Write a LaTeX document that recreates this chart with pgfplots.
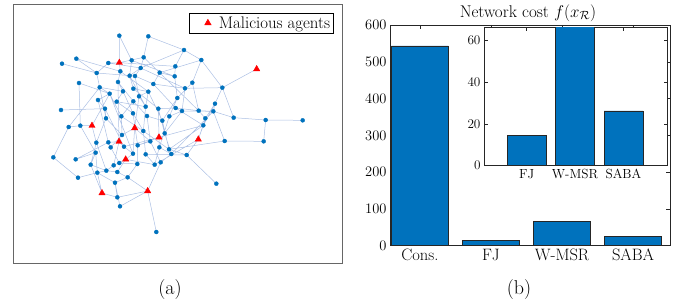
\RequirePackage{fix-cm}
\documentclass[border=0pt]{standalone}
\usepackage{pgfplots}
\pgfplotsset{compat=1.18}
\definecolor{mblue}{RGB}{0,114,189}
\definecolor{edgecol}{RGB}{172,192,228}
\definecolor{axgray}{RGB}{38,38,38}
\newcommand{\fsleg}{\fontsize{16.8}{19}\selectfont}
\newcommand{\fsy}{\fontsize{14.5}{17}\selectfont}
\newcommand{\fsx}{\fontsize{16.5}{19}\selectfont}
\newcommand{\fsin}{\fontsize{13.2}{15}\selectfont}
\newcommand{\fstit}{\fontsize{17}{20}\selectfont}
\newcommand{\fslab}{\fontsize{20}{23}\selectfont}
\begin{document}
\begin{tikzpicture}
\useasboundingbox (0,0) rectangle (681pt,305pt);
% ---------------- panel (a): network ----------------
\begin{axis}[
  at={(13.5pt,42pt)}, anchor=south west, scale only axis,
  width=328.5pt, height=258.5pt,
  xmin=40.5, xmax=1026, ymin=13.5, ymax=789, y dir=reverse,
  xtick=\empty, ytick=\empty,
  axis line style={black!60, line width=0.9pt},
  legend style={at={(1,1)}, anchor=north east, xshift=-8pt, yshift=-8pt,
    font=\fsleg, draw=black, line width=0.6pt, inner sep=1.6pt},
  legend cell align=left,
  legend image code/.code={\path[draw=none,fill=none] (-17pt,0pt) (9pt,0pt); \draw plot coordinates {(0pt,0pt)};},
]
\addplot[edgecol, line width=0.5pt, unbounded coords=jump, forget plot] coordinates {
(358,107)(358,188)(nan,nan) (358,107)(395,181)(nan,nan) (445,109)(431,172)(nan,nan)
(445,109)(552,150)(nan,nan) (552,150)(604,180)(nan,nan) (552,150)(422,204)(nan,nan)
(604,180)(667,263)(nan,nan) (604,180)(577,248)(nan,nan) (604,180)(479,218)(nan,nan)
(667,263)(770,207)(nan,nan) (667,263)(645,311)(nan,nan) (667,263)(701,353)(nan,nan)
(667,263)(555,265)(nan,nan) (645,311)(616,355)(nan,nan) (645,311)(610,376)(nan,nan)
(645,311)(640,334)(nan,nan) (701,353)(797,360)(nan,nan) (640,334)(701,353)(nan,nan)
(797,360)(908,361)(nan,nan) (797,360)(791,424)(nan,nan) (791,424)(674,423)(nan,nan)
(674,423)(640,334)(nan,nan) (674,423)(507,448)(nan,nan) (640,334)(546,333)(nan,nan)
(596,332)(640,334)(nan,nan) (186,191)(290,219)(nan,nan) (229,176)(290,219)(nan,nan)
(229,176)(361,214)(nan,nan) (237,249)(241,377)(nan,nan) (237,249)(329,281)(nan,nan)
(183,330)(315,326)(nan,nan) (206,381)(299,262)(nan,nan) (206,381)(160,472)(nan,nan)
(160,472)(234,533)(nan,nan) (227,478)(325,427)(nan,nan) (227,478)(287,458)(nan,nan)
(234,533)(292,518)(nan,nan) (306,579)(352,592)(nan,nan) (306,579)(272,494)(nan,nan)
(306,579)(292,518)(nan,nan) (352,592)(443,573)(nan,nan) (360,619)(443,573)(nan,nan)
(360,619)(345,548)(nan,nan) (443,573)(469,696)(nan,nan) (443,573)(383,532)(nan,nan)
(443,573)(482,487)(nan,nan) (649,551)(560,465)(nan,nan) (560,465)(595,418)(nan,nan)
(560,465)(437,463)(nan,nan) (560,465)(507,448)(nan,nan) (595,418)(610,376)(nan,nan)
(595,418)(464,494)(nan,nan) (595,418)(616,355)(nan,nan) (325,189)(290,219)(nan,nan)
(325,189)(422,204)(nan,nan) (325,189)(358,188)(nan,nan) (358,188)(361,214)(nan,nan)
(358,188)(526,199)(nan,nan) (358,188)(431,172)(nan,nan) (395,181)(389,227)(nan,nan)
(395,181)(524,229)(nan,nan) (431,172)(479,218)(nan,nan) (431,172)(422,204)(nan,nan)
(290,219)(299,262)(nan,nan) (290,219)(405,228)(nan,nan) (361,214)(354,246)(nan,nan)
(361,214)(445,275)(nan,nan) (422,204)(389,227)(nan,nan) (422,204)(555,265)(nan,nan)
(479,218)(524,229)(nan,nan) (479,218)(460,252)(nan,nan) (526,199)(524,229)(nan,nan)
(526,199)(552,150)(nan,nan) (524,229)(532,294)(nan,nan) (299,262)(329,281)(nan,nan)
(299,262)(318,355)(nan,nan) (299,262)(369,274)(nan,nan) (354,246)(369,274)(nan,nan)
(354,246)(400,304)(nan,nan) (389,227)(400,266)(nan,nan) (389,227)(437,320)(nan,nan)
(405,228)(417,289)(nan,nan) (405,228)(460,252)(nan,nan) (369,274)(350,305)(nan,nan)
(369,274)(399,340)(nan,nan) (400,266)(445,275)(nan,nan) (400,266)(475,326)(nan,nan)
(460,252)(555,265)(nan,nan) (460,252)(527,324)(nan,nan) (445,275)(417,289)(nan,nan)
(445,275)(487,362)(nan,nan) (577,248)(532,294)(nan,nan) (577,248)(596,332)(nan,nan)
(555,265)(546,333)(nan,nan) (294,300)(315,326)(nan,nan) (294,300)(329,281)(nan,nan)
(294,300)(325,427)(nan,nan) (329,281)(364,349)(nan,nan) (350,305)(437,320)(nan,nan)
(350,305)(399,340)(nan,nan) (400,304)(441,348)(nan,nan) (400,304)(364,349)(nan,nan)
(417,289)(437,320)(nan,nan) (532,294)(508,349)(nan,nan) (532,294)(487,362)(nan,nan)
(315,326)(318,355)(nan,nan) (315,326)(372,440)(nan,nan) (437,320)(430,393)(nan,nan)
(475,326)(527,324)(nan,nan) (475,326)(494,400)(nan,nan) (527,324)(596,332)(nan,nan)
(546,333)(508,349)(nan,nan) (596,332)(616,355)(nan,nan) (318,355)(289,428)(nan,nan)
(318,355)(366,405)(nan,nan) (364,349)(366,405)(nan,nan) (399,340)(430,393)(nan,nan)
(399,340)(413,436)(nan,nan) (441,348)(487,362)(nan,nan) (441,348)(451,424)(nan,nan)
(487,362)(494,400)(nan,nan) (508,349)(478,442)(nan,nan) (616,355)(610,376)(nan,nan)
(206,381)(241,377)(nan,nan) (241,377)(276,377)(nan,nan) (241,377)(287,458)(nan,nan)
(276,377)(329,281)(nan,nan) (276,377)(289,428)(nan,nan) (404,384)(366,405)(nan,nan)
(404,384)(451,424)(nan,nan) (404,384)(417,289)(nan,nan) (404,384)(399,461)(nan,nan)
(610,376)(507,448)(nan,nan) (366,405)(332,442)(nan,nan) (430,393)(437,463)(nan,nan)
(494,400)(514,462)(nan,nan) (289,428)(272,494)(nan,nan) (325,427)(332,442)(nan,nan)
(325,427)(357,425)(nan,nan) (357,425)(372,440)(nan,nan) (357,425)(354,246)(nan,nan)
(357,425)(341,496)(nan,nan) (372,440)(399,461)(nan,nan) (413,436)(412,492)(nan,nan)
(413,436)(451,424)(nan,nan) (451,424)(482,487)(nan,nan) (478,442)(514,462)(nan,nan)
(478,442)(464,494)(nan,nan) (477,412)(478,442)(nan,nan) (477,412)(475,326)(nan,nan)
(477,412)(413,436)(nan,nan) (477,412)(610,376)(nan,nan) (372,440)(477,412)(nan,nan)
(287,458)(292,518)(nan,nan) (332,442)(358,489)(nan,nan) (399,461)(377,478)(nan,nan)
(377,478)(341,496)(nan,nan) (377,478)(352,516)(nan,nan) (377,478)(464,494)(nan,nan)
(437,463)(464,494)(nan,nan) (514,462)(482,487)(nan,nan) (272,494)(319,512)(nan,nan)
(341,496)(319,512)(nan,nan) (358,489)(412,492)(nan,nan) (412,492)(383,532)(nan,nan)
(292,518)(319,512)(nan,nan) (292,518)(345,548)(nan,nan) (319,512)(352,516)(nan,nan)
(352,516)(383,532)(nan,nan) (383,532)(345,548)(nan,nan) (345,548)(352,592)(nan,nan)
(272,494)(287,458)(nan,nan) (430,393)(507,448)(nan,nan) (422,204)(405,228)(nan,nan)
(437,320)(445,275)(nan,nan) (546,333)(494,400)(nan,nan) (640,334)(514,462)(nan,nan)
(487,362)(507,448)(nan,nan) (527,324)(610,376)(nan,nan) (364,349)(430,393)(nan,nan)
(479,218)(596,332)(nan,nan) (329,281)(399,461)(nan,nan) (289,428)(319,512)
};
\addplot[only marks, mark=*, mark size=2pt, mark options={fill=mblue, draw=mblue}, forget plot] coordinates {
(358,107)(445,109)(552,150)(186,191)(229,176)(325,189)(395,181)(431,172)(604,180)(290,219)
(361,214)(422,204)(479,218)(526,199)(524,229)(237,249)(299,262)(354,246)(389,227)(405,228)
(369,274)(400,266)(460,252)(445,275)(577,248)(555,265)(667,263)(294,300)(329,281)(350,305)
(400,304)(417,289)(532,294)(183,330)(315,326)(437,320)(475,326)(527,324)(546,333)(596,332)
(645,311)(640,334)(318,355)(364,349)(399,340)(441,348)(487,362)(508,349)(616,355)(701,353)
(797,360)(908,361)(206,381)(241,377)(610,376)(366,405)(430,393)(494,400)(289,428)(325,427)
(372,440)(413,436)(451,424)(478,442)(507,448)(674,423)(791,424)(160,472)(227,478)(287,458)
(332,442)(399,461)(437,463)(514,462)(560,465)(272,494)(341,496)(358,489)(412,492)(464,494)
(482,487)(292,518)(319,512)(352,516)(234,533)(383,532)(345,548)(649,551)(352,592)(360,619)
(469,696)
};
\addplot[only marks, mark=triangle*, mark size=3.6pt, mark options={fill=red, draw=red}] coordinates {
(358,188)(770,207)(276,377)(404,384)(477,412)(595,418)(357,425)(377,478)(306,579)(443,573)
};
\addlegendentry{Malicious agents}
\end{axis}
\node[font=\fslab] at (170pt,15pt) {(a)};
% ---------------- panel (b): main bars ----------------
\begin{axis}[
  at={(390pt,59.3pt)}, anchor=south west, scale only axis,
  width=280pt, height=220.7pt,
  xmin=0.58, xmax=4.52, ymin=0, ymax=600,
  xtick={1,2,3,4}, xticklabels={Cons.,FJ,W-MSR,SABA},
  ytick={0,100,...,600},
  tick align=inside, tick pos=both, major tick length=4pt,
  tick style={axgray, line width=0.5pt},
  axis line style={axgray, line width=0.6pt},
  xticklabel style={font=\fsx},
  yticklabel style={font=\fsy},
]
\addplot[ybar, bar width=0.8, fill=mblue, draw=axgray, line width=0.5pt] coordinates {(1,543) (2,14.5) (3,66) (4,26)};
\end{axis}
% ---------------- inset ----------------
\begin{axis}[
  at={(484pt,139.3pt)}, anchor=south west, scale only axis,
  width=183pt, height=138pt,
  xmin=0.12, xmax=3.9, ymin=0, ymax=66,
  xtick={1,2,3}, xticklabels={FJ,W-MSR,SABA},
  ytick={0,20,40,60},
  tick align=inside, tick pos=both, major tick length=3.5pt,
  tick style={axgray, line width=0.5pt},
  axis line style={axgray, line width=0.6pt},
  tick label style={font=\fsin},
  axis background/.style={fill=white},
]
\addplot[ybar, bar width=0.8, fill=mblue, draw=axgray, line width=0.5pt] coordinates {(1,14.5) (2,66.5) (3,26.2)};
\end{axis}
\node[font=\fstit] at (528pt,292pt) {Network cost $f(x_{\mathcal{R}})$};
\node[font=\fslab] at (519pt,15pt) {(b)};
\end{tikzpicture}
\end{document}
